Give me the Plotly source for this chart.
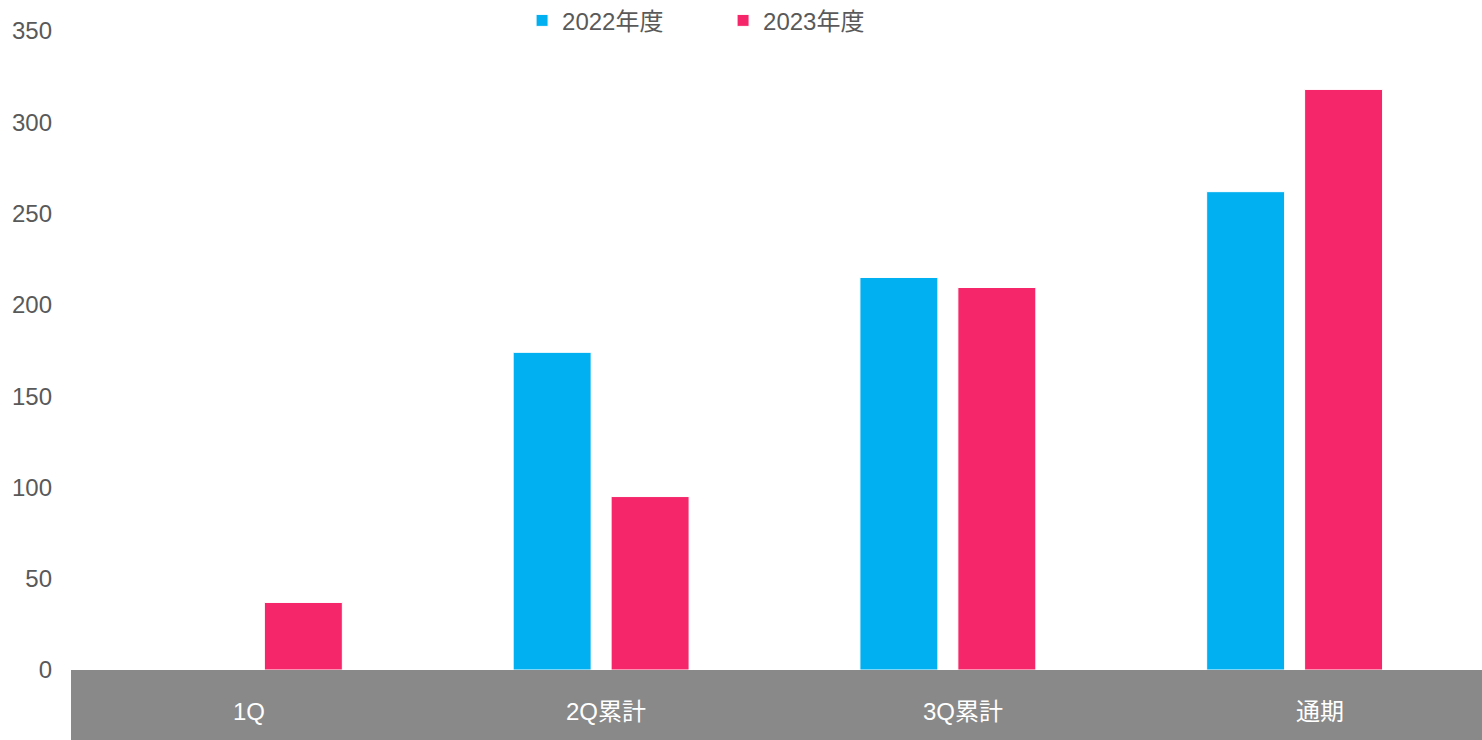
import plotly.graph_objects as go

categories = ["1Q", "2Q累計", "3Q累計", "通期"]
fy2022 = [None, 174, 215, 262]
fy2023 = [37, 95, 209.5, 318]
series_names = ["2022年度", "2023年度"]
colors = ["#00B0F0", "#F5266A"]

W, H = 1482, 740
ml, mr, mt, mb = 81, 14, 31, 70
plot_w = W - ml - mr
plot_h = H - mt - mb

fig = go.Figure()
for name, vals, c in zip(series_names, [fy2022, fy2023], colors):
    fig.add_trace(go.Bar(x=categories, y=vals, name=name, marker_color=c,
                         marker_line=dict(color="white", width=1)))
# empty trace so the label axis is rendered
fig.add_trace(go.Scatter(x=[], y=[], xaxis="x2", yaxis="y", showlegend=False,
                         hoverinfo="skip", mode="markers"))

fig.add_shape(type="rect", xref="paper", yref="paper",
              x0=-(ml - 71) / plot_w, x1=1 + mr / plot_w,
              y0=-mb / plot_h, y1=0, fillcolor="#898989", line_width=0, layer="below")

# category label axis (labels sit slightly offset from bar groups, as in the original)
lbl_start, lbl_step = 249, 357
fig.update_layout(
    xaxis2=dict(overlaying="x", anchor="y", side="bottom", type="linear",
                range=[(ml - lbl_start) / lbl_step, (W - mr - lbl_start) / lbl_step],
                tickmode="array", tickvals=list(range(len(categories))), ticktext=categories,
                showgrid=False, showline=False, zeroline=False, ticks="",
                tickfont=dict(color="white", size=24), ticklabelstandoff=25),
)

fig.update_layout(
    width=W, height=H,
    margin=dict(l=ml, r=mr, t=mt, b=mb, pad=0, autoexpand=False),
    paper_bgcolor="white", plot_bgcolor="white",
    barmode="group", bargap=0.435, bargroupgap=0.204,
    font=dict(family="Liberation Sans, Arial, Noto Sans CJK JP", size=24, color="#595959"),
    legend=dict(orientation="h", x=0.318, y=1.016, xanchor="left", yanchor="middle",
                font=dict(size=24, color="#595959"), itemwidth=30, traceorder="normal",
                entrywidth=156, entrywidthmode="pixels",
                bgcolor="rgba(0,0,0,0)"),
    showlegend=True,
)
fig.layout.xaxis.update(showticklabels=False, ticks="", showgrid=False, showline=False,
                        zeroline=False)
fig.update_yaxes(range=[0, 350], dtick=50, showgrid=False, showline=False, zeroline=False,
                 ticks="", tickfont=dict(color="#595959", size=24), ticklabelstandoff=28)

fig.write_html("out.html")
